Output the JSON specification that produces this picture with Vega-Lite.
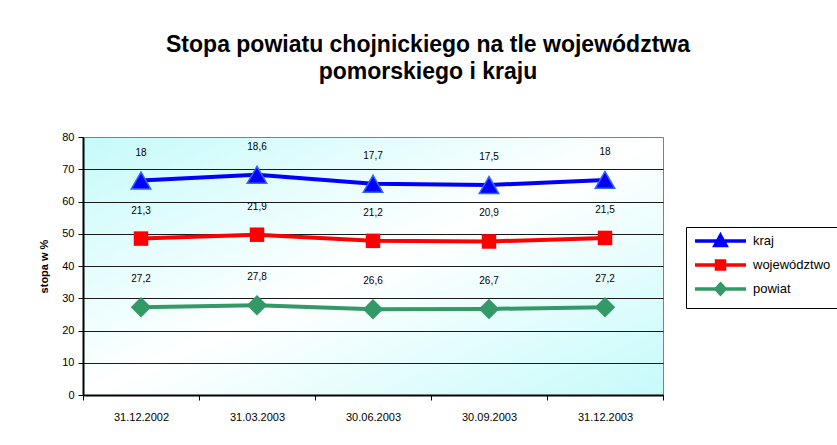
{
  "$schema": "https://vega.github.io/schema/vega-lite/v6.json",
  "width": 580,
  "height": 258,
  "autosize": {"type": "none"},
  "padding": {"left": 83, "top": 137, "right": 174, "bottom": 50},
  "background": "white",
  "config": {
    "font": "Liberation Sans",
    "locale": {"number": {"decimal": ",", "thousands": " ", "grouping": [3], "currency": ["", " zł"]}},
    "view": {
      "fill": {"gradient": "linear", "x1": 0, "y1": 0, "x2": 1, "y2": 1, "stops": [{"offset": 0, "color": "#c6fafa"}, {"offset": 0.5, "color": "#ffffff"}, {"offset": 1, "color": "#c6fafa"}]},
      "stroke": "#808080",
      "strokeWidth": 1
    }
  },
  "title": {
    "text": ["Stopa powiatu chojnickiego na tle województwa", "pomorskiego i kraju"],
    "font": "Liberation Sans",
    "fontSize": 23,
    "fontWeight": "bold",
    "color": "black",
    "anchor": "middle",
    "dx": 55,
    "offset": 47,
    "lineHeight": 27
  },
  "data": {
    "values": [
      {"data": "31.12.2002", "seria": "kraj", "kolejnosc": 3, "wartosc": 18},
      {"data": "31.03.2003", "seria": "kraj", "kolejnosc": 3, "wartosc": 18.6},
      {"data": "30.06.2003", "seria": "kraj", "kolejnosc": 3, "wartosc": 17.7},
      {"data": "30.09.2003", "seria": "kraj", "kolejnosc": 3, "wartosc": 17.5},
      {"data": "31.12.2003", "seria": "kraj", "kolejnosc": 3, "wartosc": 18},
      {"data": "31.12.2002", "seria": "województwo", "kolejnosc": 2, "wartosc": 21.3},
      {"data": "31.03.2003", "seria": "województwo", "kolejnosc": 2, "wartosc": 21.9},
      {"data": "30.06.2003", "seria": "województwo", "kolejnosc": 2, "wartosc": 21.2},
      {"data": "30.09.2003", "seria": "województwo", "kolejnosc": 2, "wartosc": 20.9},
      {"data": "31.12.2003", "seria": "województwo", "kolejnosc": 2, "wartosc": 21.5},
      {"data": "31.12.2002", "seria": "powiat", "kolejnosc": 1, "wartosc": 27.2},
      {"data": "31.03.2003", "seria": "powiat", "kolejnosc": 1, "wartosc": 27.8},
      {"data": "30.06.2003", "seria": "powiat", "kolejnosc": 1, "wartosc": 26.6},
      {"data": "30.09.2003", "seria": "powiat", "kolejnosc": 1, "wartosc": 26.7},
      {"data": "31.12.2003", "seria": "powiat", "kolejnosc": 1, "wartosc": 27.2}
    ]
  },
  "encoding": {
    "x": {
      "field": "data",
      "type": "ordinal",
      "sort": ["31.12.2002", "31.03.2003", "30.06.2003", "30.09.2003", "31.12.2003"],
      "bandPosition": 0.5,
      "scale": {"type": "band", "paddingInner": 0, "paddingOuter": 0},
      "axis": {
        "title": null,
        "labelAngle": 0,
        "labelFont": "Liberation Sans",
        "labelFontSize": 11,
        "labelColor": "black",
        "labelPadding": 11,
        "tickBand": "extent",
        "tickSize": 5,
        "tickColor": "black",
        "domainColor": "black",
        "domainWidth": 2,
        "grid": false
      }
    },
    "y": {
      "field": "wartosc",
      "type": "quantitative",
      "stack": "zero",
      "scale": {"domain": [0, 80], "nice": false},
      "axis": {
        "title": "stopa w %",
        "titleFont": "Liberation Sans",
        "titleFontSize": 11,
        "titleFontWeight": "bold",
        "titleColor": "black",
        "titlePadding": 12,
        "values": [0, 10, 20, 30, 40, 50, 60, 70, 80],
        "labelFont": "Liberation Sans",
        "labelFontSize": 11,
        "labelColor": "black",
        "labelPadding": 4,
        "tickSize": 5,
        "tickColor": "black",
        "domainColor": "black",
        "domainWidth": 2,
        "grid": true,
        "gridColor": {"condition": {"test": "datum.value === 80", "value": "#808080"}, "value": "#1a1a1a"},
        "gridWidth": 1
      }
    },
    "order": {"field": "kolejnosc"},
    "detail": {"field": "seria", "type": "nominal"}
  },
  "layer": [
    {
      "mark": {"type": "line", "strokeWidth": 4},
      "encoding": {
        "color": {
          "field": "seria",
          "type": "nominal",
          "scale": {"domain": ["kraj", "województwo", "powiat"], "range": ["#0000ff", "#ff0000", "#339966"]},
          "legend": {
            "orient": "none",
            "legendX": 603,
            "legendY": 90,
            "title": null,
            "strokeColor": "black",
            "fillColor": "white",
            "padding": 7,
            "labelFont": "Liberation Sans",
            "labelFontSize": 13,
            "labelColor": "black",
            "labelOffset": 46,
            "rowPadding": 1,
            "symbolSize": 100,
            "symbolStrokeWidth": 3.5,
            "encode": {
              "symbols": {
                "update": {
                  "shape": {"signal": "datum.value === 'kraj' ? 'M-1,0H9.2M4.1,-1.1L5.2,0.9L3,0.9Z' : (datum.value === 'powiat' ? 'M-1,0H9.2M4.1,-1L5,0L4.1,1L3.2,0Z' : 'M-1,0H9.2M3.3,-0.8H4.9V0.8H3.3Z')"},
                  "size": {"value": 100},
                  "fill": {"scale": "color", "field": "value"},
                  "stroke": {"scale": "color", "field": "value"},
                  "strokeWidth": {"value": 3.5},
                  "opacity": {"value": 1}
                }
              }
            }
          }
        }
      }
    },
    {
      "mark": {"type": "point", "filled": true, "opacity": 1, "strokeWidth": 1.5},
      "encoding": {
        "color": {"field": "seria", "type": "nominal"},
        "shape": {
          "condition": [
            {"test": "datum.seria === 'kraj'", "value": "triangle-up"},
            {"test": "datum.seria === 'województwo'", "value": "square"}
          ],
          "value": "diamond"
        },
        "size": {
          "condition": [
            {"test": "datum.seria === 'kraj'", "value": 380},
            {"test": "datum.seria === 'województwo'", "value": 210}
          ],
          "value": 420
        },
        "stroke": {"condition": {"test": "datum.seria === 'kraj'", "value": "#3366ff"}, "value": null}
      }
    },
    {
      "mark": {"type": "text", "dy": -28, "font": "Liberation Sans", "fontSize": 10, "baseline": "middle", "color": "black"},
      "encoding": {
        "text": {"field": "wartosc", "type": "quantitative", "format": ".1~f"}
      }
    }
  ]
}
